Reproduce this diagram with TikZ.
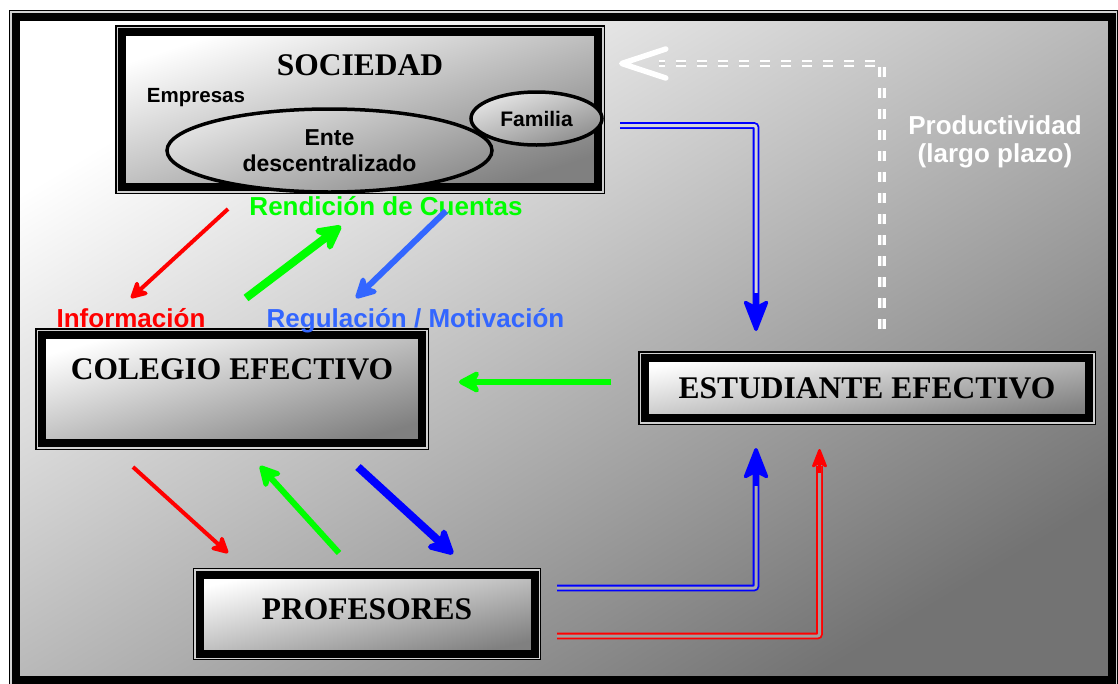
\documentclass[tikz,border=0pt]{standalone}
\usepackage{fontspec}
\setmainfont{Liberation Serif}
\newfontfamily\lsans{Liberation Sans}
\usetikzlibrary{arrows.meta,shapes.geometric}
\definecolor{nred}{HTML}{FF0000}
\definecolor{ngreen}{HTML}{00FF00}
\definecolor{nblue}{HTML}{0000FF}
\definecolor{lblue}{HTML}{3366FF}
\newcommand{\boxfont}{\bfseries\fontsize{31.5}{36}\selectfont}
\newcommand{\lblfont}{\lsans\bfseries\fontsize{26}{28}\selectfont}

\begin{document}
\begin{tikzpicture}[
  x=1pt, y=1pt,
  framed/.style={draw=black, line width=8pt, inner sep=0pt,
    top color=white, bottom color=#1, shading angle=45,
    preaction={draw=black, line width=13.4pt},
    preaction={draw=black!18, line width=11pt},
    font=\boxfont},
  framed/.default=black!50,
  oval/.style={ellipse, draw=black, line width=3.5pt, inner sep=0pt,
    top color=black!10, bottom color=black!45, shading angle=20,
    align=center, font=\lsans\bfseries\fontsize{23}{26}\selectfont},
  lbl/.style={anchor=base, font=\lblfont},
  arr/.style={line width=#1, -{Stealth[round, length=10pt 2.6, width'=0pt 1.05, inset'=0pt 0.28]}},
  dbl/.style={line width=1.8pt, double=#1, double distance=3pt, rounded corners=2pt},
  wdash/.style={draw=white, line width=2.6pt, double=black!20, double distance=2.6pt,
    dash pattern=on 10pt off 11pt}
]
\fill[white] (0,0) rectangle (1118,-683);
\useasboundingbox (0,0) rectangle (1118,-683);

% outer frame and the four boxes
\node[framed=black!55, shading angle=31, minimum width=1096pt, minimum height=663pt] (frame) at (563.5,-348) {};
\node[framed, shading angle=18, minimum width=476pt, minimum height=155pt, text depth=89pt] (soc) at (360,-109.5) {SOCIEDAD};
\node[framed, shading angle=16, minimum width=380pt, minimum height=108pt, text depth=40pt] (col) at (232,-389) {COLEGIO EFECTIVO};
\node[framed, shading angle=10, minimum width=444pt, minimum height=60pt] (est) at (867,-388) {ESTUDIANTE EFECTIVO};
\node[framed, shading angle=13, minimum width=335pt, minimum height=79pt, text depth=10pt] (prof) at (367,-614) {PROFESORES};

% inside SOCIEDAD
\node[anchor=base, font=\lsans\bfseries\fontsize{20.5}{22}\selectfont] (emp) at (196,-102) {Empresas};
\node[oval, minimum width=325pt, minimum height=83pt] (ente) at (329.5,-150.5) {Ente\\descentralizado};
\node[oval, minimum width=131pt, minimum height=53pt, font=\lsans\bfseries\fontsize{21}{22}\selectfont] (fam) at (536.5,-118.5) {Familia};

% labels
\node[lbl, text=ngreen] (rend) at (386,-215) {Rendición de Cuentas};
\node[lbl, text=nred] (info) at (131,-327) {Información};
\node[lbl, text=lblue] (regu) at (415.5,-327) {Regulación / Motivación};
\node[font=\lblfont, text=white, align=center] (prod) at (995,-142.3) {Productividad\\(largo plazo)};

% diagonal arrows
\draw[arr=4pt, nred] ([shift={(110,-18)}]soc.south west) -- ([shift={(93,33)}]col.north west);
\draw[arr=8pt, ngreen] ([shift={(208,33)}]col.north west) -- ([shift={(223,-35)}]soc.south west);
\draw[arr=6pt, lblue] ([shift={(328,-20)}]soc.south west) -- ([shift={(318,33)}]col.north west);
\draw[arr=6pt, ngreen] ([shift={(-30,6)}]est.west) -- ([shift={(33,7)}]col.east);
\draw[arr=4pt, nred] ([shift={(95,-20)}]col.south west) -- ([shift={(32.5,17.5)}]prof.north west);
\draw[arr=6pt, ngreen] ([shift={(143.5,17.5)}]prof.north west) -- ([shift={(222,-19)}]col.south west);
\draw[arr=8pt, nblue] ([shift={(320,-20)}]col.south west) -- ([shift={(257.5,16.5)}]prof.north west);

% double connectors
\draw[dbl=black!16, nblue] ([shift={(18,-16)}]soc.east) -| ([shift={(115,48)}]est.north west);
\draw[nblue, line width=3.5pt, -{Stealth[round, length=35pt, width=27pt, inset=7pt]}]
  ([shift={(115,61)}]est.north west) -- ([shift={(115,23)}]est.north west);
\draw[dbl=black!33, nblue] ([shift={(18.5,26)}]prof.east) -| ([shift={(115,-52)}]est.south west);
\draw[nblue, line width=3.5pt, -{Stealth[round, length=35pt, width=27pt, inset=7pt]}]
  ([shift={(115,-64)}]est.south west) -- ([shift={(115,-26)}]est.south west);
\draw[dbl=black!38, nred] ([shift={(18.5,-22)}]prof.east) -| ([shift={(178.5,-44)}]est.south west);
\draw[nred, line width=2.5pt, -{Stealth[round, length=22pt, width=17pt, inset=5pt]}]
  ([shift={(178.5,-51)}]est.south west) -- ([shift={(178.5,-27)}]est.south west);

% long term feedback
\draw[wdash] ([shift={(241,25)}]est.north west) |- ([shift={(57,46)}]soc.east);
\draw[white, line width=5.5pt, -{Straight Barb[round, length=44pt, width=29pt]}]
  ([shift={(20,46)}]soc.east) -- ([shift={(17,46)}]soc.east);
\end{tikzpicture}
\end{document}
